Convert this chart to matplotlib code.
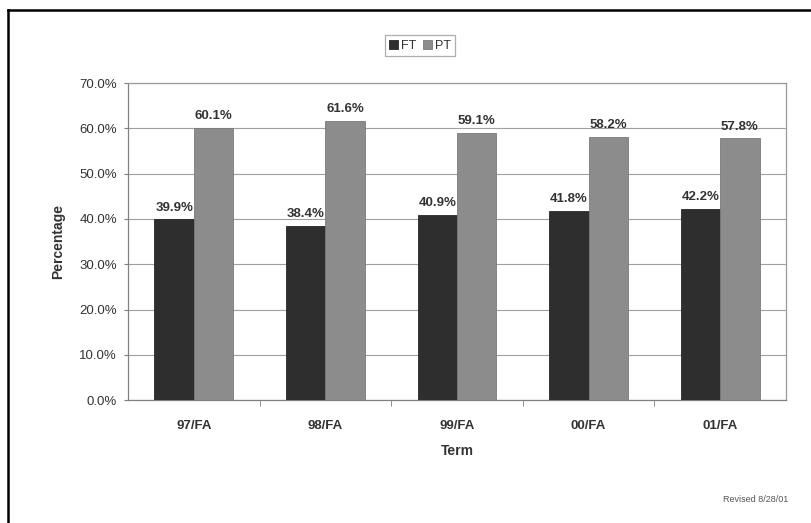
import matplotlib.pyplot as plt
import numpy as np
from matplotlib.lines import Line2D

terms = ['97/FA', '98/FA', '99/FA', '00/FA', '01/FA']
ft_pct = [39.9, 38.4, 40.9, 41.8, 42.2]
pt_pct = [60.1, 61.6, 59.1, 58.2, 57.8]

plt.rcParams['font.family'] = ['Liberation Sans', 'DejaVu Sans']

fig = plt.figure(figsize=(8.11, 5.23), dpi=100)
ax = fig.add_axes([0.158, 0.235, 0.811, 0.606])

x = np.arange(len(terms))
w = 0.3
txt = '#333333'

b1 = ax.bar(x - w / 2, ft_pct, w, color='#2e2e2e', edgecolor='#262626', linewidth=0.6, label='FT', zorder=3)
b2 = ax.bar(x + w / 2, pt_pct, w, color='#8c8c8c', edgecolor='#7a7a7a', linewidth=0.6, label='PT', zorder=3)

# value labels on top of each bar
for bars, vals in [(b1, ft_pct), (b2, pt_pct)]:
    for r, v in zip(bars, vals):
        ax.text(r.get_x() + r.get_width() / 2, v + 1.3, '%.1f%%' % v,
                ha='center', va='bottom', fontsize=9.5, fontweight='bold', color=txt)

ax.set_xlim(-0.5, len(terms) - 0.5)
ax.set_ylim(0, 70)
ax.set_yticks(np.arange(0, 71, 10))
ax.set_yticklabels(['%.1f%%' % t for t in np.arange(0, 71, 10)], fontsize=9.5, color=txt)
ax.yaxis.grid(True, color='#a0a0a0', linewidth=0.8, zorder=0)
ax.set_axisbelow(True)

# category labels centered, tick marks on category boundaries
ax.set_xticks(x)
ax.set_xticklabels(terms, fontsize=9.5, fontweight='bold', color=txt)
ax.tick_params(axis='x', length=0, pad=14)
ax.set_xticks(np.arange(0.5, len(terms) - 0.5, 1), minor=True)
ax.tick_params(axis='x', which='minor', length=4, color='#808080', direction='out')
ax.tick_params(axis='y', length=3, color='#808080', pad=5)

for s in ax.spines.values():
    s.set_color('#9a9a9a')
    s.set_linewidth(0.9)
ax.spines['left'].set_color('#808080')
ax.spines['bottom'].set_color('#808080')

ax.set_ylabel('Percentage', fontsize=10, fontweight='bold', color=txt, labelpad=10)
ax.set_xlabel('Term', fontsize=10, fontweight='bold', color=txt, labelpad=9)

leg = fig.legend(handles=[b1, b2], labels=['FT', 'PT'], ncol=2, loc='center',
                 bbox_to_anchor=(0.518, 0.913), fontsize=9, frameon=True, fancybox=False,
                 edgecolor='#9a9a9a', handlelength=0.7, handleheight=0.7,
                 handletextpad=0.2, columnspacing=0.6, borderpad=0.35, labelcolor=txt)
leg.get_frame().set_linewidth(0.9)

fig.text(0.932, 0.044, 'Revised 8/28/01', fontsize=6.5, color='#555555', ha='center', va='center')

# outer page frame
fig.add_artist(Line2D([0.010, 0.010], [0.0, 0.981], transform=fig.transFigure, color='black', linewidth=1.8))
fig.add_artist(Line2D([0.010, 1.0], [0.981, 0.981], transform=fig.transFigure, color='black', linewidth=1.8))

fig.savefig('out.png', dpi=100)
